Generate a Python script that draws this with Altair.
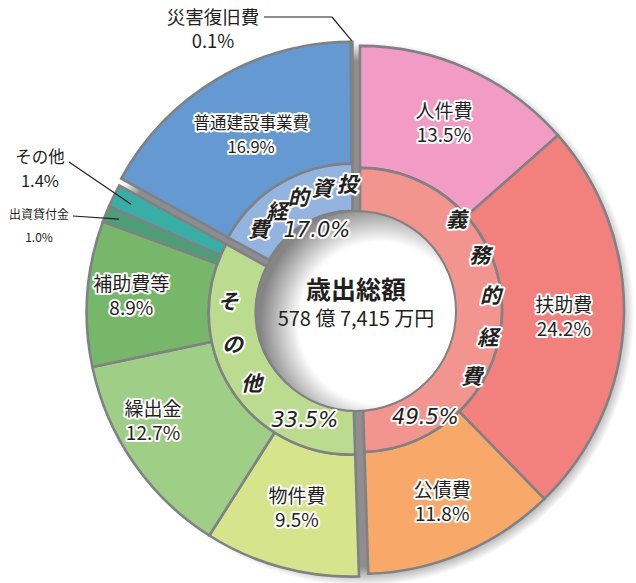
import math
import altair as alt
import pandas as pd

# ---------------- data ----------------
categories = ["人件費", "扶助費", "公債費", "物件費", "繰出金", "補助費等",
              "出資貸付金", "その他", "普通建設事業費", "災害復旧費"]
shares = [13.5, 24.2, 11.8, 9.5, 12.7, 8.9, 1.0, 1.4, 16.9, 0.1]
category_group = ["義務的経費", "義務的経費", "義務的経費",
                  "その他", "その他", "その他", "その他", "その他",
                  "投資的経費", "投資的経費"]
groups = ["義務的経費", "その他", "投資的経費"]
group_shares = [49.5, 33.5, 17.0]
center_title = "歳出総額"
center_amount = "578 億 7,415 万円"

# ---------------- style / layout ----------------
outer_colors = ["#F29BC5", "#F2817E", "#F8A96A", "#D6E48B", "#9FCF87",
                "#76B769", "#4C9E77", "#38AEA5", "#6499D2", "#8A80BE"]
inner_colors = ["#F3958F", "#BBDB8F", "#94B4E0"]
EDGE = "#808184"
INK = "#231F20"
FONT = "Noto Sans CJK JP"
W, H = 636, 583
CX, CY = 355, 310
EXPLODE = 5
R_OUT, R_MID, R_IN, R_HOLE = 264, 142, 95, 100
TAU = 2 * math.pi
theta_scale = alt.Scale(domain=[0, 100], range=[0, TAU])

outside_labels = {"出資貸付金", "その他", "災害復旧費"}
label_radius = {"公債費": 210, "繰出金": 226, "補助費等": 220, "普通建設事業費": 198}
label_shift = {"繰出金": 1.6}
label_size = {"普通建設事業費": 16.5}
LABEL_LH = 24

inner_title_layout = {
    "義務的経費": dict(start=47.5, step=18.5, r=131),
    "その他": dict(start=274.5, step=-20.4, r=123),
    "投資的経費": dict(start=357.5, step=-12.2, r=120),
}
inner_pct_layout = {
    "義務的経費": (148.7, 126),
    "その他": (202.9, 118),
    "投資的経費": (334.6, 83),
}
ext_layout = {
    "災害復旧費": dict(text=(213, 30), size=18.5, lh=24, path=[(264, 17), (332, 17)], r=265),
    "その他": dict(text=(40, 170), size=16.5, lh=24, path=[(69, 162)], r=245),
    "出資貸付金": dict(text=(39, 226), size=12, lh=23, path=[(73, 216)], r=250),
}

# ---------------- tables ----------------
df = pd.DataFrame({"category": categories, "share": shares,
                   "grp": category_group, "order": list(range(len(categories)))})
df["label"] = [f"{c}\n{s:.1f}%" for c, s in zip(categories, shares)]
df["inside"] = [c not in outside_labels for c in categories]
df["lr"] = [label_radius.get(c, 204) for c in categories]
df["lshift"] = [label_shift.get(c, 0.0) for c in categories]
df["fs"] = [label_size.get(c, 19) for c in categories]

gdf = pd.DataFrame({"grp": groups, "share": group_shares, "order": list(range(len(groups)))})
gdf["pct"] = [f"{s:.1f}%" for s in group_shares]

# exploded centres of each group
gcenter = {}
acc = 0.0
for g, s in zip(groups, group_shares):
    a = (acc + s / 2) / 100 * TAU
    gcenter[g] = (CX + EXPLODE * math.sin(a), CY - EXPLODE * math.cos(a))
    acc += s

cum_start = {}
acc = 0.0
for c, s in zip(categories, shares):
    cum_start[c] = acc
    acc += s


def polar(center, r, pct):
    a = pct / 100 * TAU
    return center[0] + r * math.sin(a), center[1] - r * math.cos(a)


base = (alt.Chart(df)
        .transform_window(end="sum(share)", sort=[alt.SortField("order")], frame=[None, 0])
        .transform_calculate(start="datum.end - datum.share",
                             mid="datum.end - datum.share / 2",
                             lmid="datum.end - datum.share / 2 + datum.lshift"))
gbase = (alt.Chart(gdf)
         .transform_window(end="sum(share)", sort=[alt.SortField("order")], frame=[None, 0])
         .transform_calculate(start="datum.end - datum.share"))

one = alt.Chart(pd.DataFrame({"k": [0]}))

layers = []

# drop shadow behind the rings (also fills the gaps)
shadow_fill = alt.RadialGradient(
    gradient="radial", x1=0.5, y1=0.5, r1=0, x2=0.5, y2=0.5, r2=0.5,
    stops=[alt.GradientStop(color="#8E8E8E", offset=0),
           alt.GradientStop(color="#8E8E8E", offset=0.93),
           alt.GradientStop(color="#FFFFFF", offset=1)])
layers.append(one.mark_arc(theta=0, theta2=TAU, outerRadius=272, fill=shadow_fill)
              .encode(x=alt.value(CX + 7), y=alt.value(CY + 4)))

color_scale = alt.Scale(domain=categories, range=outer_colors)

for i, g in enumerate(groups):
    cx, cy = gcenter[g]
    layers.append(
        base.transform_filter(alt.datum.grp == g)
        .mark_arc(outerRadius=R_OUT, innerRadius=R_MID, stroke=EDGE, strokeWidth=2.6)
        .encode(theta=alt.Theta("start:Q", scale=theta_scale), theta2="end:Q",
                color=alt.Color("category:N", scale=color_scale, legend=None),
                x=alt.value(cx), y=alt.value(cy)))
    layers.append(
        gbase.transform_filter(alt.datum.grp == g)
        .mark_arc(outerRadius=R_MID, innerRadius=R_IN, fill=inner_colors[i],
                  stroke=EDGE, strokeWidth=2.6)
        .encode(theta=alt.Theta("start:Q", scale=theta_scale), theta2="end:Q",
                x=alt.value(cx), y=alt.value(cy)))

# centre hole with inner shadow
hole_fill = alt.RadialGradient(
    gradient="radial", x1=0.62, y1=0.56, r1=0.3, x2=0.62, y2=0.56, r2=0.6,
    stops=[alt.GradientStop(color="#FFFFFF", offset=0),
           alt.GradientStop(color="#FFFFFF", offset=0.35),
           alt.GradientStop(color="#858585", offset=1)])
layers.append(one.mark_arc(theta=0, theta2=TAU, outerRadius=R_HOLE, fill=hole_fill,
                           stroke=EDGE, strokeWidth=2)
              .encode(x=alt.value(CX + 1), y=alt.value(CY + 1)))

# labels inside outer segments
for g in groups:
    cx, cy = gcenter[g]
    lab = base.transform_filter(alt.datum.grp == g).transform_filter("datum.inside").encode(
        theta=alt.Theta("lmid:Q", scale=theta_scale),
        radius=alt.Radius("lr:Q", scale=None),
        size=alt.Size("fs:Q", scale=None, legend=None),
        text="label:N", x=alt.value(cx), y=alt.value(cy))
    common = dict(font=FONT, lineBreak="\n", lineHeight=LABEL_LH, dy=-LABEL_LH / 2,
                  align="center", baseline="middle")
    layers.append(lab.mark_text(fill="white", stroke="white", strokeWidth=4,
                                strokeJoin="round", **common))
    layers.append(lab.mark_text(fill=INK, **common))

# inner ring titles (characters along the arc) and percentages
for g in groups:
    cx, cy = gcenter[g]
    lay = inner_title_layout[g]
    cdf = pd.DataFrame({"ch": list(g),
                        "t": [(lay["start"] + k * lay["step"]) / 3.6 for k in range(len(g))],
                        "r": [lay["r"]] * len(g)})
    ch = alt.Chart(cdf).encode(theta=alt.Theta("t:Q", scale=theta_scale),
                               radius=alt.Radius("r:Q", scale=None),
                               text="ch:N", x=alt.value(cx), y=alt.value(cy))
    cm = dict(font=FONT, fontSize=21, fontWeight="bold", fontStyle="italic",
              align="center", baseline="middle")
    layers.append(ch.mark_text(fill="white", stroke="white", strokeWidth=4,
                               strokeJoin="round", **cm))
    layers.append(ch.mark_text(fill=INK, **cm))

    ang, rr = inner_pct_layout[g]
    pc = (gbase.transform_filter(alt.datum.grp == g)
          .transform_calculate(t=f"{ang / 3.6}", r=f"{rr}")
          .encode(theta=alt.Theta("t:Q", scale=theta_scale),
                  radius=alt.Radius("r:Q", scale=None),
                  text="pct:N", x=alt.value(cx), y=alt.value(cy)))
    pm = dict(font="DejaVu Sans, Noto Sans CJK JP", fontSize=21, fontStyle="italic",
              align="center", baseline="middle")
    layers.append(pc.mark_text(fill="white", stroke="white", strokeWidth=4,
                               strokeJoin="round", **pm))
    layers.append(pc.mark_text(fill=INK, **pm))

# centre text
layers.append(one.mark_text(font=FONT, fontSize=25, fontWeight=600,
                            fill=INK, align="center", baseline="middle")
              .encode(x=alt.value(CX + 1), y=alt.value(CY - 19), text=alt.value(center_title)))
layers.append(one.mark_text(font=FONT, fontSize=20, fill=INK, align="center",
                            baseline="middle")
              .encode(x=alt.value(CX + 1), y=alt.value(CY + 10), text=alt.value(center_amount)))

# external labels with leader lines
seg_rows = []
for c, lay in ext_layout.items():
    g = category_group[categories.index(c)]
    s = shares[categories.index(c)]
    anchor = polar(gcenter[g], lay["r"], cum_start[c] + s / 2)
    pts = lay["path"] + [anchor]
    for p, q in zip(pts[:-1], pts[1:]):
        seg_rows.append({"x": p[0], "y": p[1], "x2": q[0], "y2": q[1]})
    tx, ty = lay["text"]
    layers.append(base.transform_filter(alt.datum.category == c)
                  .mark_text(font=FONT, fontSize=lay["size"], lineBreak="\n",
                             lineHeight=lay["lh"], dy=-lay["lh"] / 2, fill=INK,
                             align="center", baseline="middle")
                  .encode(text="label:N", x=alt.value(tx), y=alt.value(ty)))
seg_df = pd.DataFrame(seg_rows)
layers.append(alt.Chart(seg_df).mark_rule(color=INK, strokeWidth=1.2).encode(
    x=alt.X("x:Q", scale=None, axis=None), x2="x2:Q",
    y=alt.Y("y:Q", scale=None, axis=None), y2="y2:Q"))

chart = (alt.layer(*layers)
         .properties(width=W, height=H, padding=0,
                     autosize=alt.AutoSizeParams(type="none"), background="white")
         .configure_view(stroke=None))

chart.save("out.html", embed_options={"renderer": "svg", "actions": False})
